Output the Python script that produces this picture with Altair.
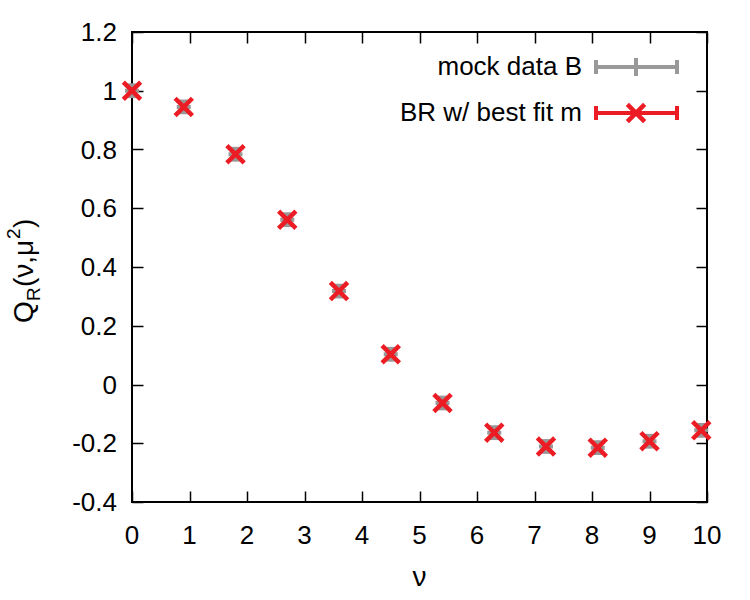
import altair as alt
import pandas as pd

# ---- data ----
nu = [0.0, 0.9, 1.8, 2.7, 3.6, 4.5, 5.4, 6.3, 7.2, 8.1, 9.0, 9.9]
q_mock = [1.0, 0.945, 0.784, 0.561, 0.318, 0.103, -0.063, -0.164, -0.211, -0.215, -0.193, -0.156]
q_err = [0.02, 0.02, 0.02, 0.02, 0.02, 0.02, 0.02, 0.02, 0.02, 0.02, 0.02, 0.02]
q_fit = [1.0, 0.945, 0.784, 0.561, 0.318, 0.103, -0.063, -0.164, -0.211, -0.215, -0.193, -0.156]

x_ticks = [0, 1, 2, 3, 4, 5, 6, 7, 8, 9, 10]
y_ticks = [-0.4, -0.2, 0, 0.2, 0.4, 0.6, 0.8, 1.0, 1.2]
series_names = ["mock data B", "BR w/ best fit m"]

GRAY = "#999999"
RED = "#ec1c24"
FONT = "Liberation Sans"
TICK_FS = 26

df = pd.DataFrame({
    "nu": nu,
    "mock": q_mock,
    "lo": [m - e for m, e in zip(q_mock, q_err)],
    "hi": [m + e for m, e in zip(q_mock, q_err)],
    "fit": q_fit,
})
xlab_df = pd.DataFrame({"v": x_ticks, "t": [f"{v:g}" for v in x_ticks]})
ylab_df = pd.DataFrame({"v": y_ticks, "t": [f"{v:g}" for v in y_ticks]})

W, H = 575, 470
xs = alt.Scale(domain=[0, 10], nice=False, zero=False)
ys = alt.Scale(domain=[-0.4, 1.2], nice=False, zero=False)
TICK = 11

def tick_axis(orient, values):
    return alt.Axis(orient=orient, values=values, labels=False, domain=False, grid=False,
                    tickSize=TICK, offset=-TICK, tickColor="black", tickWidth=1.5, title=None)

base = alt.Chart(df)

err_rule = base.mark_rule(color=GRAY, strokeWidth=3).encode(
    x=alt.X("nu:Q", scale=xs, axis=tick_axis("bottom", x_ticks)),
    y=alt.Y("lo:Q", scale=ys, axis=tick_axis("left", y_ticks)),
    y2="hi:Q",
)
cap_hi = base.mark_point(shape="M-1,0L1,0", size=196, color=GRAY, strokeWidth=3,
                         filled=False, opacity=1).encode(
    x=alt.X("nu:Q", scale=xs, axis=tick_axis("top", x_ticks)),
    y=alt.Y("hi:Q", scale=ys, axis=tick_axis("right", y_ticks)),
)
cap_lo = base.mark_point(shape="M-1,0L1,0", size=196, color=GRAY, strokeWidth=3,
                         filled=False, opacity=1).encode(
    x=alt.X("nu:Q", scale=xs, axis=None),
    y=alt.Y("lo:Q", scale=ys, axis=None),
)
gray_plus = base.mark_point(shape="M-1,0L1,0M0,-1L0,1", size=196, color=GRAY, strokeWidth=4,
                            filled=False, opacity=1).encode(
    x=alt.X("nu:Q", scale=xs, axis=None),
    y=alt.Y("mock:Q", scale=ys, axis=None),
)
red_x = base.mark_point(shape="M-1,-1L1,1M-1,1L1,-1", size=300, color=RED, strokeWidth=4.5,
                        filled=False, opacity=1).encode(
    x=alt.X("nu:Q", scale=xs, axis=None),
    y=alt.Y("fit:Q", scale=ys, axis=None),
)

# ---- tick labels (placed through the scales) ----
x_labels = alt.Chart(xlab_df).mark_text(font=FONT, fontSize=TICK_FS, color="black",
                                        align="center", baseline="alphabetic").encode(
    x=alt.X("v:Q", scale=xs, axis=None), y=alt.value(H + 42), text="t:N")
y_labels = alt.Chart(ylab_df).mark_text(font=FONT, fontSize=TICK_FS, color="black",
                                        align="right", baseline="alphabetic", dy=9).encode(
    y=alt.Y("v:Q", scale=ys, axis=None), x=alt.value(-15), text="t:N")

# ---- key (gnuplot style, inside top right) ----
one = alt.Data(values=[{"k": 1}])
LX0, LX1, LXM, LTX = 464, 545, 504, 450
ROWS = [35, 81]
key = []
for name, cy, col in zip(series_names, ROWS, [GRAY, RED]):
    key.append(alt.Chart(one).mark_text(align="right", baseline="middle", font=FONT,
                                        fontSize=26, color="black", text=name).encode(
        x=alt.value(LTX), y=alt.value(cy)))
    key.append(alt.Chart(one).mark_rule(color=col, strokeWidth=4).encode(
        x=alt.value(LX0), x2=alt.value(LX1), y=alt.value(cy)))
    for cx in (LX0, LX1):
        key.append(alt.Chart(one).mark_rule(color=col, strokeWidth=4).encode(
            x=alt.value(cx), y=alt.value(cy - 7), y2=alt.value(cy + 7)))
gray_key_mark = alt.Chart(one).mark_point(shape="M-1,0L1,0M0,-1L0,1", size=324, color=GRAY,
                                          strokeWidth=4, filled=False, opacity=1).encode(
    x=alt.value(LXM), y=alt.value(ROWS[0]))
red_key_mark = alt.Chart(one).mark_point(shape="M-1,-1L1,1M-1,1L1,-1", size=300, color=RED,
                                         strokeWidth=4.5, filled=False, opacity=1).encode(
    x=alt.value(LXM), y=alt.value(ROWS[1]))

# ---- axis titles ----
x_title = alt.Chart(one).mark_text(text="\u03bd", font=FONT, fontSize=28, color="black",
                                   align="center", baseline="middle").encode(
    x=alt.value(W / 2), y=alt.value(546))

yt_base = -99
yt_parts = [
    ("Q", 28, yt_base, 291),
    ("R", 19, yt_base + 7, 269),
    ("(\u03bd,\u03bc", 28, yt_base, 255),
    ("2", 19, yt_base - 13, 207),
    (")", 28, yt_base, 196),
]
y_title = [
    alt.Chart(one).mark_text(text=t, font=FONT, fontSize=fs, color="black", angle=270,
                             align="left", baseline="alphabetic").encode(
        x=alt.value(xx), y=alt.value(yy))
    for t, fs, xx, yy in yt_parts
]

chart = alt.layer(
    err_rule, cap_hi, cap_lo, gray_plus, red_x, x_labels, y_labels,
    *key, gray_key_mark, red_key_mark, x_title, *y_title
).resolve_axis(x="independent", y="independent").properties(
    width=W, height=H,
    autosize=alt.AutoSizeParams(type="none"),
    padding={"left": 132, "top": 32, "right": 43, "bottom": 98},
    background="white",
).configure_view(stroke="black", strokeWidth=2)

chart.save("out.html", embed_options={"renderer": "svg", "actions": False})
